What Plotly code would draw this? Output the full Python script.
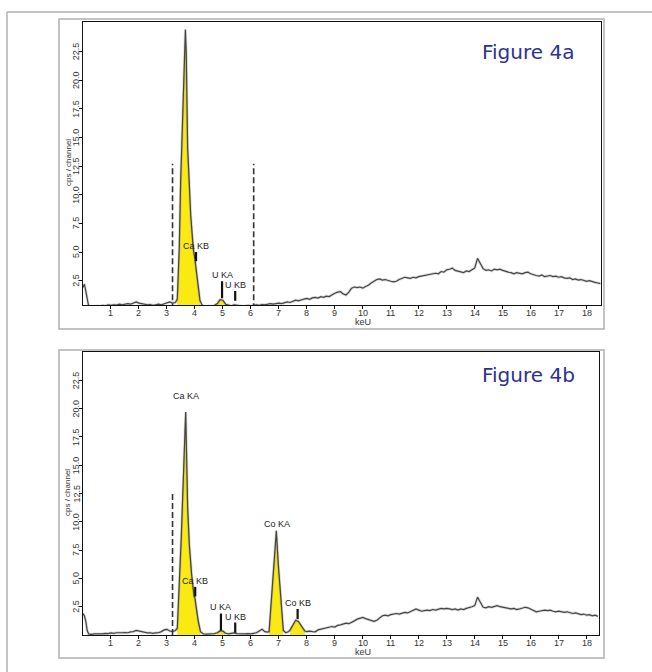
import plotly.graph_objects as go

W, H = 652, 672

# ---------------- data: panel a ----------------
a_energy = [0.00,0.05,0.10,0.15,0.20,0.30,0.40,0.50,0.60,0.70,0.80,0.90,1.00,1.10,1.20,1.30,1.40,1.50,1.60,1.70,
            1.80,1.90,2.00,2.10,2.20,2.30,2.40,2.50,2.60,2.70,2.80,2.90,3.00,3.10,3.20,3.30,3.37,3.44,3.49,3.55,
            3.61,3.66,3.69,3.74,3.85,3.94,4.00,4.06,4.12,4.18,4.25,4.30,4.40,4.50,4.60,4.70,4.80,4.90,5.00,5.10,
            5.20,5.30,5.40,5.50,5.60,5.70,5.80,5.90,6.00,6.10,6.20,6.30,6.40,6.50,6.60,6.70,6.80,6.90,7.00,7.10,
            7.20,7.30,7.40,7.50,7.60,7.70,7.80,7.90,8.00,8.10,8.20,8.30,8.40,8.50,8.60,8.70,8.80,8.90,9.00,9.10,
            9.20,9.30,9.40,9.50,9.60,9.70,9.80,9.90,10.00,10.10,10.20,10.30,10.40,10.50,10.60,10.70,10.80,10.90,11.00,11.10,
            11.20,11.30,11.40,11.50,11.60,11.70,11.80,11.90,12.00,12.10,12.20,12.30,12.40,12.50,12.60,12.70,12.80,12.90,13.00,13.10,
            13.20,13.30,13.40,13.50,13.60,13.70,13.80,13.90,14.00,14.10,14.20,14.30,14.40,14.50,14.60,14.70,14.80,14.90,15.00,15.10,
            15.20,15.30,15.40,15.50,15.60,15.70,15.80,15.90,16.00,16.10,16.20,16.30,16.40,16.50,16.60,16.70,16.80,16.90,17.00,17.10,
            17.20,17.30,17.40,17.50,17.60,17.70,17.80,17.90,18.00,18.10,18.20,18.30,18.40,18.50]
a_cps = [1.9,2.2,1.6,0.7,0.3,0.2,0.25,0.3,0.28,0.35,0.3,0.4,0.35,0.4,0.38,0.45,0.4,0.42,0.5,0.45,
         0.55,0.65,0.55,0.5,0.45,0.4,0.42,0.35,0.4,0.45,0.4,0.5,0.55,0.65,0.55,0.6,0.9,5.3,11.1,16.1,
         21.5,24.4,22.5,14.1,8.2,5.3,4.4,3.4,2.0,0.8,0.4,0.3,0.25,0.3,0.28,0.35,0.5,0.85,0.8,0.45,
         0.35,0.3,0.4,0.35,0.3,0.28,0.3,0.35,0.3,0.38,0.4,0.35,0.42,0.4,0.45,0.5,0.45,0.5,0.55,0.5,
         0.6,0.65,0.6,0.72,0.8,0.75,0.85,0.9,0.95,0.88,1.0,1.05,0.98,1.1,1.05,1.15,1.12,1.3,1.4,1.5,
         1.55,1.35,1.25,1.5,1.85,1.95,1.9,1.95,1.85,2.0,2.1,2.3,2.45,2.6,2.65,2.55,2.6,2.5,2.45,2.4,
         2.45,2.6,2.7,2.8,2.75,2.7,2.8,2.75,2.85,2.9,2.95,3.0,3.05,3.1,3.15,3.1,3.3,3.25,3.45,3.5,
         3.6,3.4,3.35,3.3,3.2,3.35,3.3,3.45,3.6,4.45,4.0,3.55,3.4,3.45,3.35,3.5,3.45,3.5,3.4,3.3,
         3.25,3.2,3.1,3.2,3.15,3.1,3.2,3.25,3.1,3.0,2.95,2.9,3.0,2.85,2.9,2.95,2.85,2.9,2.8,2.85,
         2.75,2.7,2.75,2.6,2.65,2.55,2.6,2.5,2.45,2.5,2.4,2.35,2.3,2.25]

a_peaks = [
    ([3.37,3.44,3.49,3.55,3.61,3.645,3.69,3.74,3.85,3.94,4.00,4.06,4.12,4.18],
     [0.6,5.3,11.1,16.1,21.0,22.9,22.2,14.1,8.2,5.3,4.2,3.0,1.8,0.6]),
    ([4.80,4.88,4.95,5.02,5.10], [0.4,0.75,0.85,0.7,0.4]),
]
a_line_labels = ["Ca KB", "U KA", "U KB"]
a_line_energy = [4.04, 4.97, 5.44]
a_line_lo = [4.2, 0.97, 0.75]
a_line_hi = [5.0, 2.45, 1.6]
a_dashed = [3.2, 6.1]
a_dashed_top = 12.7

# ---------------- data: panel b ----------------
b_energy = [0.00,0.05,0.10,0.15,0.20,0.30,0.40,0.50,0.60,0.70,0.80,0.90,1.00,1.10,1.20,1.30,1.40,1.50,1.60,1.70,
            1.80,1.90,2.00,2.10,2.20,2.30,2.40,2.50,2.60,2.70,2.80,2.90,3.00,3.10,3.20,3.30,3.37,3.42,3.47,3.51,
            3.55,3.60,3.67,3.71,3.74,3.80,3.88,3.97,4.00,4.05,4.12,4.20,4.30,4.40,4.50,4.60,4.70,4.80,4.90,5.00,
            5.10,5.20,5.30,5.40,5.50,5.60,5.70,5.80,5.90,6.00,6.10,6.20,6.30,6.40,6.50,6.60,6.65,6.74,6.81,6.91,
            6.98,7.07,7.16,7.25,7.35,7.40,7.50,7.60,7.70,7.80,7.93,8.00,8.10,8.20,8.30,8.40,8.50,8.60,8.70,8.80,
            8.90,9.00,9.10,9.20,9.30,9.40,9.50,9.60,9.70,9.80,9.90,10.00,10.10,10.20,10.30,10.40,10.50,10.60,10.70,10.80,
            10.90,11.00,11.10,11.20,11.30,11.40,11.50,11.60,11.70,11.80,11.90,12.00,12.10,12.20,12.30,12.40,12.50,12.60,12.70,12.80,
            12.90,13.00,13.10,13.20,13.30,13.40,13.50,13.60,13.70,13.80,13.90,14.00,14.10,14.20,14.30,14.40,14.50,14.60,14.70,14.80,
            14.90,15.00,15.10,15.20,15.30,15.40,15.50,15.60,15.70,15.80,15.90,16.00,16.10,16.20,16.30,16.40,16.50,16.60,16.70,16.80,
            16.90,17.00,17.10,17.20,17.30,17.40,17.50,17.60,17.70,17.80,17.90,18.00,18.10,18.20,18.30,18.40]
b_cps = [1.9,1.7,1.2,0.4,0.1,0.05,0.1,0.08,0.12,0.1,0.15,0.12,0.18,0.15,0.2,0.18,0.2,0.22,0.2,0.28,
         0.3,0.4,0.35,0.25,0.2,0.18,0.2,0.15,0.18,0.2,0.3,0.45,0.5,0.35,0.3,0.4,0.6,3.0,5.4,8.5,
         11.3,15.5,19.7,15.0,11.3,8.0,5.4,3.4,3.3,2.4,1.2,0.3,0.1,0.08,0.1,0.08,0.12,0.2,0.38,0.35,
         0.15,0.1,0.12,0.18,0.12,0.1,0.08,0.1,0.12,0.1,0.15,0.2,0.35,0.5,0.3,0.25,0.3,3.2,6.2,9.2,
         6.2,3.2,0.4,0.2,0.3,0.45,0.9,1.3,1.2,0.8,0.35,0.3,0.35,0.3,0.28,0.45,0.5,0.55,0.6,0.65,
         0.75,0.7,0.85,0.9,0.95,1.05,1.0,1.1,1.25,1.4,1.5,1.55,1.45,1.35,1.25,1.2,1.3,1.5,1.7,1.75,
         1.7,1.8,1.85,1.9,1.85,1.95,2.0,1.95,2.05,2.15,2.3,2.2,2.1,2.15,2.2,2.15,2.25,2.2,2.3,2.35,
         2.3,2.35,2.3,2.25,2.3,2.2,2.3,2.25,2.35,2.4,2.5,2.6,3.35,2.9,2.45,2.4,2.5,2.45,2.55,2.6,
         2.5,2.45,2.4,2.35,2.3,2.35,2.25,2.3,2.35,2.45,2.4,2.3,2.15,2.05,2.1,2.15,2.2,2.15,2.2,2.1,
         2.05,2.1,2.05,2.0,2.05,1.95,1.9,1.95,1.85,1.8,1.85,1.75,1.8,1.7,1.75,1.65]

b_peaks = [
    ([3.37,3.42,3.47,3.51,3.55,3.60,3.67,3.71,3.74,3.80,3.88,3.97,4.05,4.12,4.20],
     [0.4,3.0,5.4,8.5,11.3,15.5,19.7,15.0,11.3,8.0,5.4,3.4,2.3,1.1,0.2]),
    ([4.80,4.90,5.00,5.08], [0.1,0.35,0.3,0.1]),
    ([6.65,6.74,6.81,6.91,6.98,7.07,7.16], [0.2,3.2,6.2,9.2,6.2,3.2,0.3]),
    ([7.40,7.50,7.60,7.70,7.80,7.93], [0.3,0.85,1.3,1.15,0.7,0.2]),
]
b_line_labels = ["Ca KB", "U KA", "U KB", "Co KB"]
b_line_energy = [4.01, 4.93, 5.44, 7.67]
b_line_lo = [3.4, 0.4, 0.2, 1.4]
b_line_hi = [4.25, 1.9, 1.1, 2.3]
b_free_labels = ["Ca KA", "Co KA"]
b_free_energy = [3.68, 6.95]
b_free_y = [21.1, 9.8]
b_dashed = [3.2]
b_dashed_top = 12.5

x_ticks = list(range(1, 19))
y_ticks = [2.5, 5.0, 7.5, 10.0, 12.5, 15.0, 17.5, 20.0, 22.5]
y_ticktext = ["2.5", "5.0", "7.5", "10.0", "12.5", "15.0", "17.5", "20.0", "22.5"]

# ---------------- figure ----------------
fig = go.Figure()
YEL = "#fbe912"

def add_panel(xa, ya, energy, cps, peaks):
    for px, py in peaks:
        fig.add_trace(go.Scatter(x=px, y=py, xaxis=xa, yaxis=ya, mode="lines", fill="tozeroy",
                                 fillcolor=YEL, line=dict(color="#b8a800", width=0.6),
                                 hoverinfo="skip", showlegend=False))
    fig.add_trace(go.Scatter(x=energy, y=cps, xaxis=xa, yaxis=ya, mode="lines",
                             line=dict(color="rgba(150,150,150,0.35)", width=2.8),
                             hoverinfo="skip", showlegend=False))
    fig.add_trace(go.Scatter(x=energy, y=cps, xaxis=xa, yaxis=ya, mode="lines",
                             line=dict(color="#444444", width=1.2),
                             hoverinfo="skip", showlegend=False))

add_panel("x", "y", a_energy, a_cps, a_peaks)
add_panel("x2", "y2", b_energy, b_cps, b_peaks)

ax_common = dict(showline=True, mirror=True, linecolor="#111", linewidth=1.2,
                 ticks="outside", ticklen=3, tickcolor="#111", tickwidth=1.2,
                 showgrid=False, zeroline=False, showticklabels=False)

def px2x(p):
    return p / W

def py2y(p):
    return 1 - p / H

fig.update_layout(
    width=W, height=H, margin=dict(l=0, r=0, t=0, b=0),
    paper_bgcolor="white", plot_bgcolor="white",
    xaxis=dict(domain=[px2x(83), px2x(600.6)], range=[0, 18.5], tickvals=x_ticks,
               anchor="y", **ax_common),
    yaxis=dict(domain=[py2y(305), py2y(22)], range=[0.38, 25.06], tickvals=y_ticks,
               anchor="x", **ax_common),
    xaxis2=dict(domain=[px2x(83), px2x(598.7)], range=[0, 18.43], tickvals=x_ticks,
                anchor="y2", **ax_common),
    yaxis2=dict(domain=[py2y(635), py2y(352)], range=[0, 25.0], tickvals=y_ticks,
                anchor="x2", **ax_common),
)

shapes = []
annos = []
lab_font = dict(family="Liberation Sans, Arial", size=9, color="#222")
tick_font = dict(family="Liberation Sans, Arial", size=9, color="#333")

# tick labels placed precisely
for xr, yr, axis_py in [("x", "y", 305), ("x2", "y2", 635)]:
    for t in x_ticks:
        annos.append(dict(xref=xr, yref="paper", x=t, y=py2y(axis_py + 8), text=str(t),
                          showarrow=False, xanchor="center", yanchor="middle", font=tick_font))
    for v, s in zip(y_ticks, y_ticktext):
        annos.append(dict(xref="paper", yref=yr, x=px2x(76), y=v, text=s, textangle=-90,
                          showarrow=False, xanchor="center", yanchor="middle", font=tick_font))

def markers(xr, yr, labels, energy, lo, hi):
    for lab, e, l, h in zip(labels, energy, lo, hi):
        shapes.append(dict(type="line", xref=xr, yref=yr, x0=e, x1=e, y0=l, y1=h,
                           line=dict(color="#111", width=2.2)))
        annos.append(dict(xref=xr, yref=yr, x=e, y=h, text=lab, showarrow=False,
                          yanchor="bottom", xanchor="center", yshift=-1, font=lab_font))

def dashed(xr, yr, xs, top):
    for e in xs:
        shapes.append(dict(type="line", xref=xr, yref=yr, x0=e, x1=e, y0=0, y1=top,
                           line=dict(color="#333", width=1.6, dash="6px,3px")))

markers("x", "y", a_line_labels, a_line_energy, a_line_lo, a_line_hi)
markers("x2", "y2", b_line_labels, b_line_energy, b_line_lo, b_line_hi)
dashed("x", "y", a_dashed, a_dashed_top)
dashed("x2", "y2", b_dashed, b_dashed_top)
for lab, e, yv in zip(b_free_labels, b_free_energy, b_free_y):
    annos.append(dict(xref="x2", yref="y2", x=e, y=yv, text=lab, showarrow=False,
                      yanchor="middle", xanchor="center", font=lab_font))

# panel frames and outer frame
for top, bot in [(19, 329), (350, 658)]:
    shapes.append(dict(type="rect", xref="paper", yref="paper", x0=px2x(59), x1=px2x(604),
                       y0=py2y(bot), y1=py2y(top), line=dict(color="#b0b0b0", width=1.5),
                       layer="below"))
shapes.append(dict(type="line", xref="paper", yref="paper", x0=px2x(7), x1=1, y0=py2y(12), y1=py2y(12),
                   line=dict(color="#b0b0b0", width=1.5)))
shapes.append(dict(type="line", xref="paper", yref="paper", x0=px2x(7), x1=px2x(7), y0=0, y1=py2y(12),
                   line=dict(color="#b0b0b0", width=1.5)))

# titles
for yc, txt in [(52, "Figure 4a"), (375, "Figure 4b")]:
    annos.append(dict(xref="paper", yref="paper", x=px2x(528), y=py2y(yc), text=txt, showarrow=False,
                      xanchor="center", yanchor="middle",
                      font=dict(family="DejaVu Sans", size=20, color="#2e3192")))
for yc in [163, 493]:
    annos.append(dict(xref="paper", yref="paper", x=px2x(68), y=py2y(yc), text="cps / channel",
                      showarrow=False, textangle=-90, xanchor="center", yanchor="middle",
                      font=dict(family="Liberation Sans, Arial", size=8, color="#333")))
for xr, yc in [("x", 322), ("x2", 652)]:
    annos.append(dict(xref=xr, yref="paper", x=10, y=py2y(yc), text="keU", showarrow=False,
                      xanchor="center", yanchor="middle",
                      font=dict(family="Liberation Sans, Arial", size=9, color="#333")))

fig.update_layout(shapes=shapes, annotations=annos)
fig.write_html("out.html", config={"displayModeBar": False},
               post_script="document.body.style.margin='0px';document.body.style.overflow='hidden';")
